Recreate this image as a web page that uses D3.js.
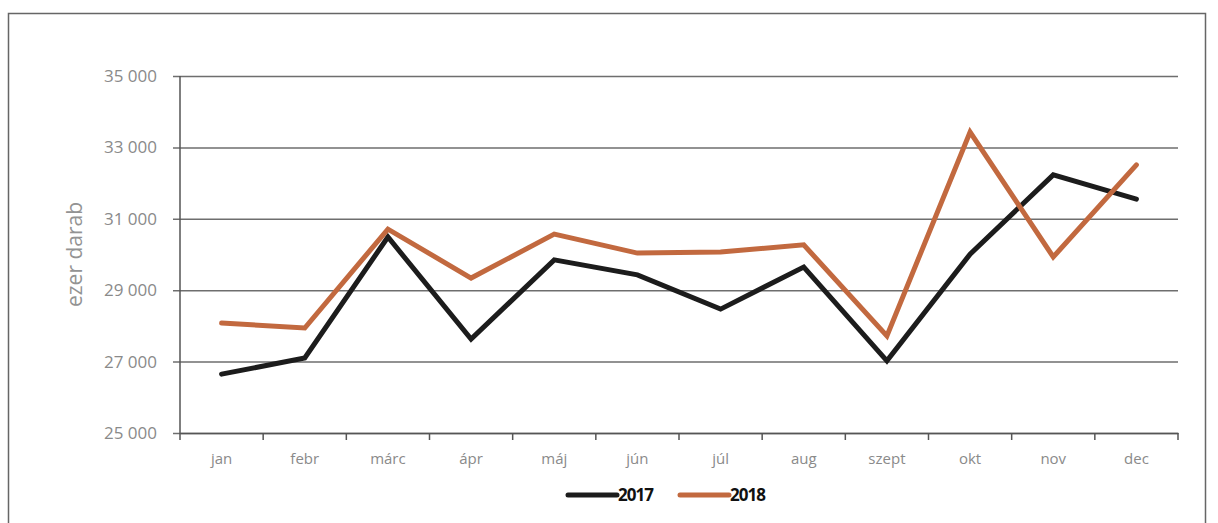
<!DOCTYPE html>
<html>
<head>
<meta charset="utf-8">
<script src="https://cdn.jsdelivr.net/npm/d3@7"></script>
<style>
body { margin:0; background:#fff; }
text { font-family: "Open Sans", "Noto Sans", sans-serif; }
</style>
</head>
<body>
<svg id="chart"></svg>
<script>
var months = ["jan","febr","márc","ápr","máj","jún","júl","aug","szept","okt","nov","dec"];
var values2017 = [26650, 27100, 30490, 27630, 29850, 29430, 28470, 29650, 27020, 30010, 32230, 31550];
var values2018 = [28080, 27940, 30710, 29340, 30570, 30040, 30070, 30270, 27720, 33430, 29930, 32510];
var yTicks = [25000, 27000, 29000, 31000, 33000, 35000];
var seriesNames = ["2017", "2018"];
var seriesColors = ["#1c1c1c", "#c2693f"];

var screen = {width:1218, height:523};
var margins = {left:180, right:40, top:76, bottom:90};
var graph = {
    width: screen.width - margins.left - margins.right,
    height: screen.height - margins.top - margins.bottom
};

var svg = d3.select("#chart")
    .attr("width", screen.width)
    .attr("height", screen.height);

// frame
svg.append("path")
    .attr("d", "M8.5,523 L8.5,13.5 L1205.5,13.5 L1205.5,523")
    .attr("fill", "none")
    .attr("stroke", "#666")
    .attr("stroke-width", 1.5);

var target = svg.append("g")
    .attr("transform", "translate(" + margins.left + "," + margins.top + ")");

var xScale = d3.scaleBand()
    .domain(months)
    .range([0, graph.width]);

var yScale = d3.scaleLinear()
    .domain([25000, 35000])
    .range([graph.height, 0]);

var fmt = function(d) { return d3.format(",")(d).replace(",", " "); };

// gridlines + y axis
var yAxis = target.append("g")
    .call(d3.axisLeft(yScale).tickValues(yTicks).tickSize(-graph.width).tickFormat(fmt).tickPadding(23));
yAxis.select(".domain").remove();
yAxis.selectAll(".tick line")
    .attr("x1", -7)
    .attr("stroke", "#6e6e6e")
    .attr("stroke-width", 1.5);
yAxis.selectAll(".tick text")
    .attr("fill", "#8a8a8a")
    .attr("font-size", 17);

// vertical axis line
target.append("line")
    .attr("x1", 0).attr("x2", 0)
    .attr("y1", 0).attr("y2", graph.height)
    .attr("stroke", "#555")
    .attr("stroke-width", 1.5);

// x axis
var xAxis = target.append("g")
    .attr("transform", "translate(0," + graph.height + ")")
    .call(d3.axisBottom(xScale).tickSize(0).tickPadding(20));
xAxis.select(".domain")
    .attr("stroke", "#555")
    .attr("stroke-width", 1.5);
xAxis.selectAll(".tick text")
    .attr("fill", "#8a8a8a")
    .attr("font-size", 15);

// x tick marks at band boundaries
var bounds = months.map(function(m) { return xScale(m); }).concat([graph.width]);
target.selectAll(".xtick")
    .data(bounds)
    .enter()
    .append("line")
    .attr("x1", function(d) { return d; })
    .attr("x2", function(d) { return d; })
    .attr("y1", graph.height)
    .attr("y2", graph.height + 7)
    .attr("stroke", "#555")
    .attr("stroke-width", 1.5);

// lines
var series = [values2017, values2018];
var line = d3.line()
    .x(function(d, i) { return xScale(months[i]) + xScale.bandwidth() / 2; })
    .y(function(d) { return yScale(d); });

series.forEach(function(vals, i) {
    target.append("path")
        .datum(vals)
        .attr("fill", "none")
        .attr("d", line)
        .attr("stroke", seriesColors[i])
        .attr("stroke-width", 5)
        .attr("stroke-linejoin", "miter")
        .attr("stroke-linecap", "round");
});

// y label
svg.append("text")
    .text("ezer darab")
    .attr("text-anchor", "middle")
    .attr("fill", "#939393")
    .attr("font-size", 21)
    .attr("transform", "translate(82," + (margins.top + yScale(30000)) + ") rotate(-90)");

// legend
var legend = svg.append("g")
    .attr("transform", "translate(566,495)");
var entries = legend.selectAll("g")
    .data(seriesNames)
    .enter()
    .append("g")
    .attr("transform", function(d, i) { return "translate(" + (i * 112) + ",0)"; });
entries.append("line")
    .attr("x1", 2).attr("x2", 51)
    .attr("y1", 0).attr("y2", 0)
    .attr("stroke", function(d, i) { return seriesColors[i]; })
    .attr("stroke-width", 5)
    .attr("stroke-linecap", "round");
entries.append("text")
    .text(function(d) { return d; })
    .attr("x", 52)
    .attr("y", 6)
    .attr("font-size", 17)
    .attr("font-weight", "bold")
    .attr("letter-spacing", -1)
    .attr("fill", "#111");
</script>
</body>
</html>
